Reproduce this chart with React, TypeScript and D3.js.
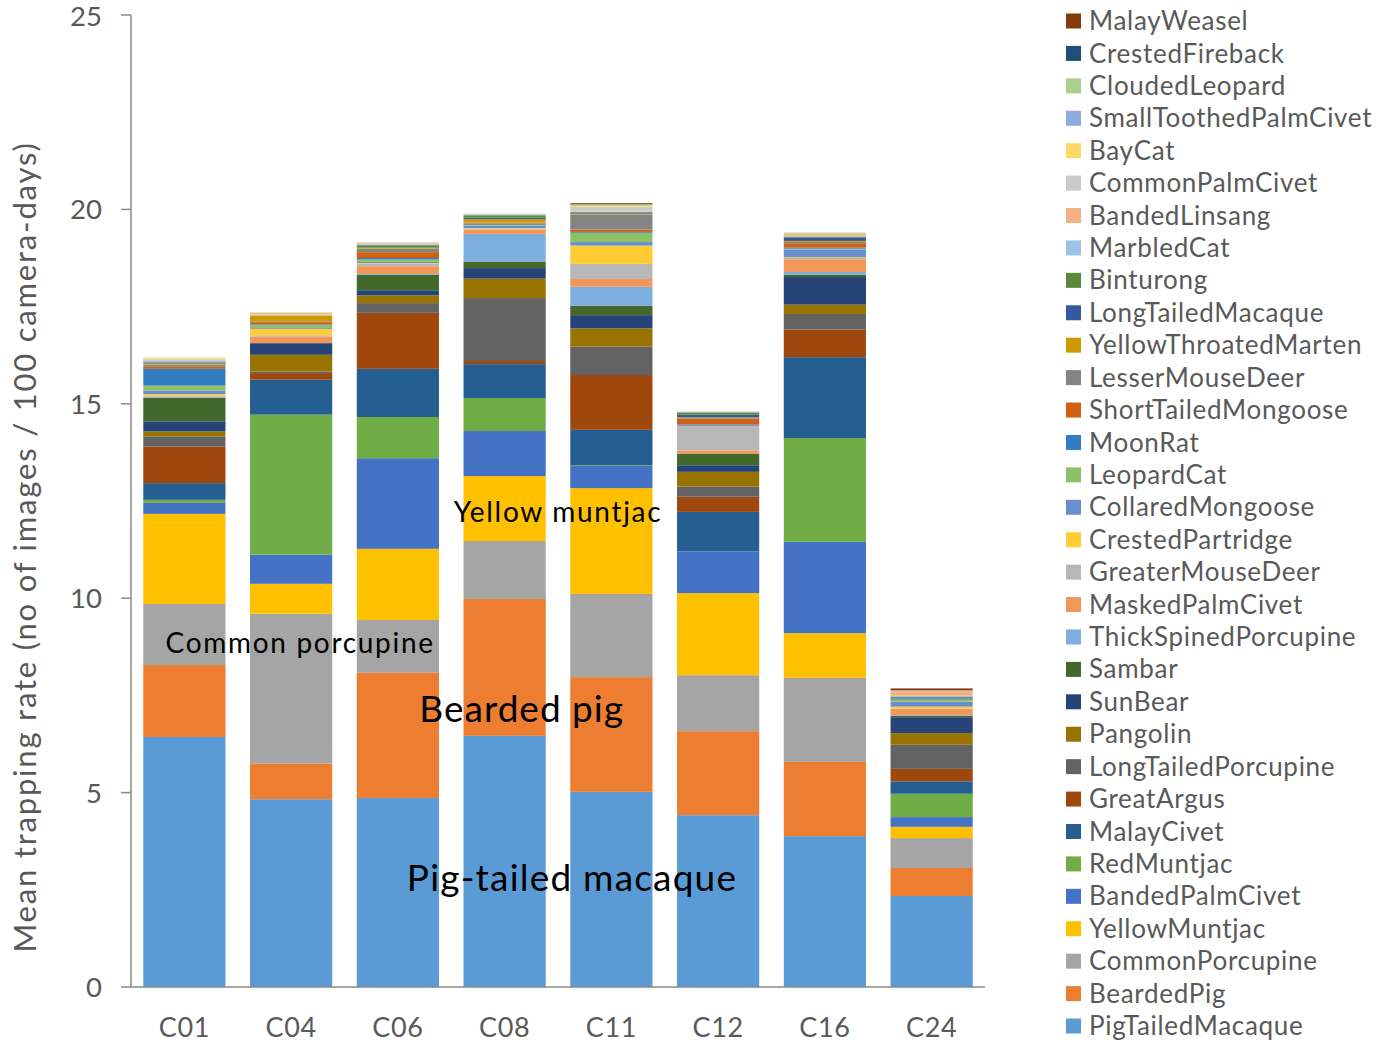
import React from "react";
import * as d3 from "d3";

const sites = ["C01", "C04", "C06", "C08", "C11", "C12", "C16", "C24"];

// stack order: bottom to top
const species = [
  "PigTailedMacaque", "BeardedPig", "CommonPorcupine", "YellowMuntjac", "BandedPalmCivet",
  "RedMuntjac", "MalayCivet", "GreatArgus", "LongTailedPorcupine", "Pangolin",
  "SunBear", "Sambar", "ThickSpinedPorcupine", "MaskedPalmCivet", "GreaterMouseDeer",
  "CrestedPartridge", "CollaredMongoose", "LeopardCat", "MoonRat", "ShortTailedMongoose",
  "LesserMouseDeer", "YellowThroatedMarten", "LongTailedMacaque", "Binturong", "MarbledCat",
  "BandedLinsang", "CommonPalmCivet", "BayCat", "SmallToothedPalmCivet", "CloudedLeopard",
  "CrestedFireback", "MalayWeasel",
];

const colors = [
  "#5B9BD5", "#ED7D31", "#A5A5A5", "#FFC000", "#4472C4",
  "#70AD47", "#255E91", "#9E480E", "#636363", "#997300",
  "#264478", "#43682B", "#7CAFDD", "#F1975A", "#B7B7B7",
  "#FFCD33", "#698ED0", "#8CC168", "#327DC2", "#D26012",
  "#848484", "#CC9A00", "#335AA1", "#5A8A39", "#9DC3E6",
  "#F4B183", "#C9C9C9", "#FFD966", "#8FAADC", "#A9D18E",
  "#1F4E79", "#843C0C",
];

// values per site, in species (stack) order
const c01 = [6.43, 1.85, 1.57, 2.32, 0.28, 0.08, 0.43, 0.94, 0.26, 0.13, 0.26, 0.6, 0.02, 0.02, 0.02, 0.04, 0.09, 0.13, 0.43, 0.05, 0.06, 0.03, 0.02, 0.02, 0.04, 0.02, 0.02, 0.03, 0, 0, 0, 0];
const c04 = [4.83, 0.92, 3.85, 0.77, 0.75, 3.6, 0.9, 0.17, 0.04, 0.43, 0.3, 0, 0, 0.17, 0.03, 0.17, 0.02, 0.07, 0.02, 0.06, 0.02, 0.15, 0, 0, 0, 0.03, 0.04, 0.02, 0, 0, 0, 0];
const c06 = [4.86, 3.22, 1.36, 1.83, 2.33, 1.06, 1.24, 1.44, 0.25, 0.2, 0.13, 0.4, 0.02, 0.2, 0.06, 0.02, 0.03, 0.06, 0.04, 0.15, 0.09, 0.02, 0.01, 0.06, 0.02, 0.03, 0.02, 0, 0, 0, 0, 0];
const c08 = [6.46, 3.52, 1.49, 1.67, 1.16, 0.85, 0.87, 0.08, 1.62, 0.5, 0.27, 0.17, 0.71, 0.11, 0.02, 0.02, 0.06, 0.02, 0.02, 0.02, 0.02, 0.09, 0.04, 0.06, 0.02, 0, 0.02, 0, 0, 0, 0, 0];
const c11 = [5.02, 2.95, 2.14, 2.72, 0.57, 0.02, 0.91, 1.41, 0.73, 0.47, 0.34, 0.24, 0.49, 0.2, 0.39, 0.47, 0.09, 0.24, 0.02, 0.06, 0.39, 0.02, 0.02, 0.02, 0.02, 0.02, 0.1, 0.02, 0, 0.04, 0, 0.03];
const c12 = [4.42, 2.16, 1.44, 2.11, 1.07, 0, 1.02, 0.39, 0.26, 0.38, 0.17, 0.3, 0, 0.08, 0.63, 0, 0.02, 0, 0.02, 0.14, 0.02, 0.02, 0.07, 0.06, 0, 0, 0.02, 0, 0, 0, 0, 0];
const c16 = [3.88, 1.91, 2.16, 1.15, 2.35, 2.67, 2.08, 0.71, 0.4, 0.24, 0.71, 0.06, 0.07, 0.33, 0.03, 0.02, 0.2, 0.02, 0.03, 0.11, 0.03, 0.03, 0.08, 0.02, 0.02, 0.03, 0.05, 0.02, 0, 0, 0, 0];
const c24 = [2.34, 0.72, 0.77, 0.29, 0.25, 0.6, 0.32, 0.32, 0.62, 0.3, 0.41, 0.03, 0.02, 0.17, 0, 0.05, 0.13, 0.05, 0.02, 0, 0.02, 0, 0.02, 0.02, 0.02, 0.12, 0.02, 0, 0, 0, 0, 0.05];

const siteValues = [c01, c04, c06, c08, c11, c12, c16, c24];
const yTicks = [0, 5, 10, 15, 20, 25];

const W = 1382;
const H = 1044;
const FONT = "Lato, 'Open Sans', sans-serif";
const GREY = "#595959";
const AXIS = "#898989";

export default function App() {
  const table = sites.map((s, i) => {
    const row: Record<string, any> = { site: s };
    species.forEach((sp, j) => (row[sp] = siteValues[i][j]));
    return row;
  });
  const stacked = d3.stack<any>().keys(species)(table);

  const x = d3.scaleBand<string>().domain(sites).range([131, 985]).paddingInner(0.23).paddingOuter(0.115);
  const y = d3.scaleLinear().domain([0, 25]).range([987, 15]);
  const color = d3.scaleOrdinal<string, string>().domain(species).range(colors);

  const legendItems = species.slice().reverse();
  const legendY = d3.scalePoint<string>().domain(legendItems).range([21, 1026]);

  const cx = (a: string) => (x(a) as number) + x.bandwidth() / 2;

  return (
    <svg width={W} height={H} style={{ position: "absolute", left: 0, top: 0, background: "#fff" }} fontFamily={FONT}>
      {stacked.map((layer) => (
        <g key={layer.key} fill={color(layer.key)}>
          {layer.map((d, i) => (
            <rect
              key={i}
              x={x(sites[i])}
              width={x.bandwidth()}
              y={y(d[1])}
              height={Math.max(0, y(d[0]) - y(d[1]))}
            />
          ))}
        </g>
      ))}

      {/* axes */}
      <line x1={131} x2={131} y1={15} y2={987} stroke={AXIS} strokeWidth={1.5} />
      <line x1={131} x2={985} y1={987} y2={987} stroke={AXIS} strokeWidth={1.5} />
      {yTicks.map((t) => (
        <g key={t}>
          <line x1={121} x2={131} y1={y(t)} y2={y(t)} stroke={AXIS} strokeWidth={1.5} />
          <text x={102} y={y(t) + (t === 25 ? 1 : 0)} dy="0.36em" textAnchor="end" fontSize={27.5} fill={GREY}>
            {t}
          </text>
        </g>
      ))}
      {sites.map((s) => (
        <text key={s} x={cx(s)} y={1028} dy="0.35em" textAnchor="middle" fontSize={27} letterSpacing={0.7} fill={GREY}>
          {s}
        </text>
      ))}
      <text
        transform={`translate(25,547) rotate(-90)`}
        textAnchor="middle"
        dy="0.35em"
        fontSize={31}
        letterSpacing={1.8}
        fill={GREY}
      >
        Mean trapping rate (no of images / 100 camera-days)
      </text>

      {/* annotations */}
      <text x={(cx("C08") + cx("C11")) / 2 + 14} y={y(2.8)} dy="0.35em" textAnchor="middle" fontSize={37} letterSpacing={1.2} fill="#000">
        Pig-tailed macaque
      </text>
      <text x={cx("C08") + 17} y={y(7.15)} dy="0.35em" textAnchor="middle" fontSize={37} letterSpacing={1} fill="#000">
        Bearded pig
      </text>
      <text x={cx("C04") + 9} y={y(8.85)} dy="0.35em" textAnchor="middle" fontSize={28} letterSpacing={1.7} fill="#000">
        Common porcupine
      </text>
      <text x={(cx("C08") + cx("C11")) / 2} y={y(12.2)} dy="0.35em" textAnchor="middle" fontSize={28} letterSpacing={1.7} fill="#000">
        Yellow muntjac
      </text>

      {/* legend */}
      {legendItems.map((sp) => (
        <g key={sp} transform={`translate(1066,${legendY(sp)})`}>
          <rect x={0} y={-7.5} width={15} height={15} fill={color(sp)} />
          <text x={23} y={0} dy="0.35em" fontSize={26} letterSpacing={0.7} fill={GREY}>
            {sp}
          </text>
        </g>
      ))}
    </svg>
  );
}
